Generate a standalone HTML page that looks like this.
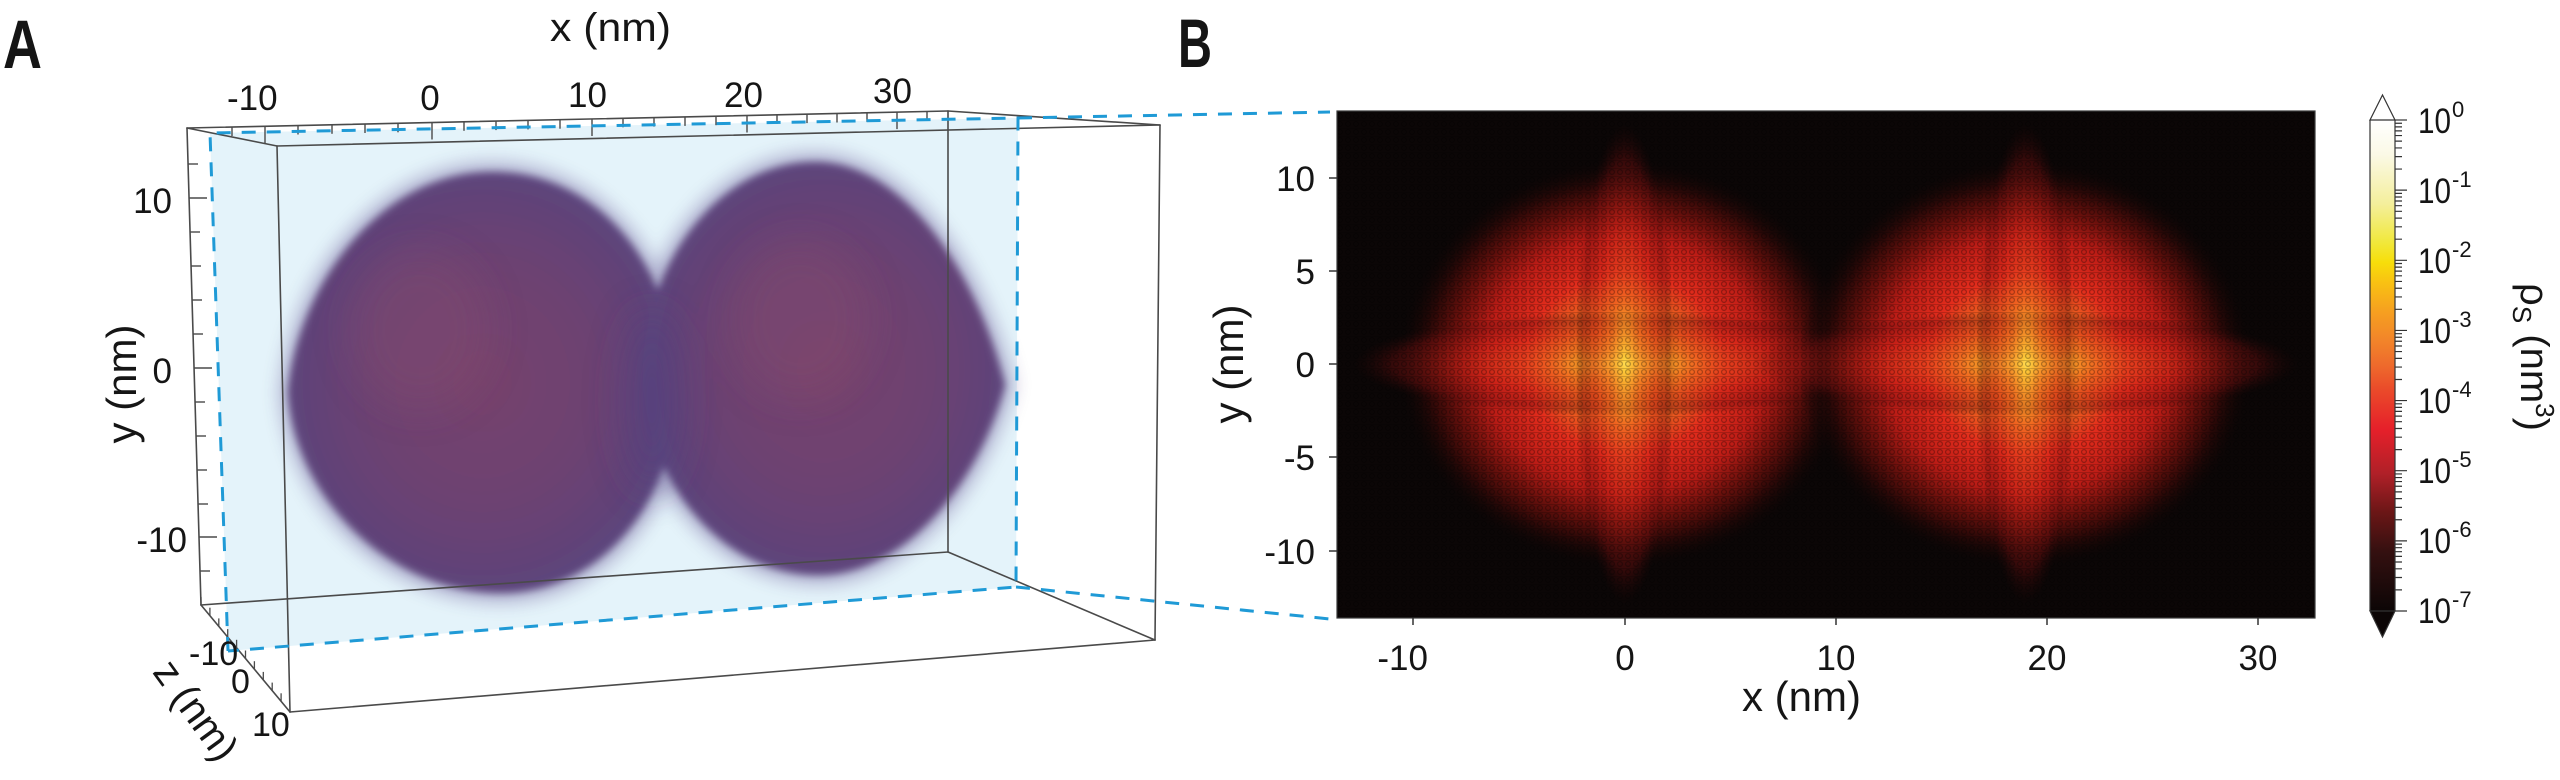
<!DOCTYPE html>
<html>
<head>
<meta charset="utf-8">
<style>
  html, body { margin:0; padding:0; background:#ffffff; }
  body { width:2560px; height:780px; overflow:hidden; }
  svg { display:block; }
  text { font-family: "Liberation Sans", "DejaVu Sans", sans-serif; fill:#151515; }
</style>
</head>
<body>
<svg width="2560" height="780" viewBox="0 0 2560 780" xmlns="http://www.w3.org/2000/svg">
  <defs>
    <radialGradient id="lobeL" cx="0.5" cy="0.5" r="0.5">
      <stop offset="0" stop-color="#76426c"/>
      <stop offset="0.6" stop-color="#6c4272"/>
      <stop offset="0.9" stop-color="#614378"/>
      <stop offset="1" stop-color="#5c457c"/>
    </radialGradient>
    <filter id="soft" x="-10%" y="-10%" width="120%" height="120%">
      <feGaussianBlur stdDeviation="4"/>
    </filter>
    <filter id="soft2" x="-30%" y="-30%" width="160%" height="160%">
      <feGaussianBlur stdDeviation="9"/>
    </filter>
    <filter id="soft3" x="-50%" y="-50%" width="200%" height="200%">
      <feGaussianBlur stdDeviation="18"/>
    </filter>

    <radialGradient id="disk" cx="0.5" cy="0.5" r="0.5">
      <stop offset="0" stop-color="#fffbd0"/>
      <stop offset="0.03" stop-color="#fff050"/>
      <stop offset="0.09" stop-color="#fcd030"/>
      <stop offset="0.18" stop-color="#f5a020"/>
      <stop offset="0.30" stop-color="#ee6420"/>
      <stop offset="0.44" stop-color="#e22c1c"/>
      <stop offset="0.62" stop-color="#bc1c16"/>
      <stop offset="0.76" stop-color="#6a100c"/>
      <stop offset="0.88" stop-color="#280807"/>
      <stop offset="1" stop-color="#0b0606" stop-opacity="0"/>
    </radialGradient>
    <radialGradient id="streak" cx="0.5" cy="0.5" r="0.5">
      <stop offset="0" stop-color="#ffd838" stop-opacity="0.6"/>
      <stop offset="0.3" stop-color="#f06020" stop-opacity="0.45"/>
      <stop offset="0.6" stop-color="#d42418" stop-opacity="0.45"/>
      <stop offset="0.85" stop-color="#7a1010" stop-opacity="0.4"/>
      <stop offset="1" stop-color="#300808" stop-opacity="0"/>
    </radialGradient>
    <pattern id="rings" x="0" y="0" width="8" height="8" patternUnits="userSpaceOnUse">
      <circle cx="4" cy="4" r="2.4" fill="none" stroke="#000" stroke-opacity="0.3" stroke-width="1.2"/>
      <rect x="0" y="0" width="8" height="1" fill="#000" fill-opacity="0.18"/>
    </pattern>
    <clipPath id="hmclip"><rect x="1337" y="111" width="978" height="507"/></clipPath>

    <linearGradient id="cbar" x1="0" y1="0" x2="0" y2="1">
      <stop offset="0" stop-color="#ffffff"/>
      <stop offset="0.07" stop-color="#fbf9e6"/>
      <stop offset="0.17" stop-color="#f4ef9c"/>
      <stop offset="0.25" stop-color="#f1e83a"/>
      <stop offset="0.29" stop-color="#f7de0a"/>
      <stop offset="0.33" stop-color="#f9c212"/>
      <stop offset="0.39" stop-color="#f6a020"/>
      <stop offset="0.45" stop-color="#f2842a"/>
      <stop offset="0.50" stop-color="#ee6a2c"/>
      <stop offset="0.55" stop-color="#ea4a2a"/>
      <stop offset="0.63" stop-color="#e6202a"/>
      <stop offset="0.72" stop-color="#b02028"/>
      <stop offset="0.80" stop-color="#6a1616"/>
      <stop offset="0.88" stop-color="#341010"/>
      <stop offset="1" stop-color="#0c0606"/>
    </linearGradient>
  </defs>

  <!-- ================= PANEL A ================= -->
  <text x="3" y="68" font-size="69" font-weight="bold" textLength="39" lengthAdjust="spacingAndGlyphs">A</text>
  <text x="550" y="41" font-size="40" textLength="121" lengthAdjust="spacingAndGlyphs">x (nm)</text>

  <polygon points="210,133 1018,118 1016,587 228,651" fill="#e4f3fa"/>

  <!-- fuzzy halo -->
  <g filter="url(#soft2)" opacity="0.45">
    <path d="M 280,392 C 289,283 373,163 492,163 C 612,163 685,275 685,385 C 685,507 607,602 500,602 C 388,602 287,507 280,392 Z" fill="#6a5a96"/>
    <path d="M 635,372 C 635,260 713,153 815,153 C 910,153 985,268 1014,385 C 988,484 912,584 818,584 C 716,584 635,484 635,372 Z" fill="#6a5a96"/>
  </g>
  <g filter="url(#soft)">
    <path d="M 288,392 C 297,289 379,172 492,172 C 606,172 677,279 677,385 C 677,501 601,593 500,593 C 394,593 295,501 288,392 Z" fill="url(#lobeL)"/>
    <path d="M 643,372 C 643,266 719,162 815,162 C 904,162 977,274 1005,385 C 980,480 906,575 818,575 C 722,575 643,480 643,372 Z" fill="url(#lobeL)"/>
  </g>
  <g filter="url(#soft3)">
    <ellipse cx="652" cy="400" rx="30" ry="90" fill="#4f3f80" opacity="0.45"/>
    <ellipse cx="420" cy="330" rx="70" ry="80" fill="#8a4a6a" opacity="0.25"/>
    <ellipse cx="800" cy="320" rx="70" ry="80" fill="#8a4a6a" opacity="0.25"/>
  </g>

  <!-- box edges -->
  <g stroke="#4a4a4a" stroke-width="1.6" fill="none" stroke-linecap="round">
    <line x1="187" y1="128" x2="948" y2="111"/>
    <line x1="277" y1="146" x2="1160" y2="125"/>
    <line x1="187" y1="128" x2="277" y2="146"/>
    <line x1="948" y1="111" x2="1160" y2="125"/>
    <line x1="187" y1="128" x2="201" y2="605"/>
    <line x1="277" y1="146" x2="290" y2="712"/>
    <line x1="948" y1="111" x2="948" y2="552"/>
    <line x1="1160" y1="125" x2="1155" y2="640"/>
    <line x1="201" y1="605" x2="948" y2="552"/>
    <line x1="290" y1="712" x2="1155" y2="640"/>
    <line x1="201" y1="605" x2="290" y2="712"/>
    <line x1="948" y1="552" x2="1155" y2="640"/>
  </g>

  <g stroke="#4a4a4a" stroke-width="1.4">
    <line x1="232" y1="127.0" x2="232" y2="136"/>
    <line x1="265" y1="126.3" x2="265" y2="143"/>
    <line x1="298" y1="125.5" x2="298" y2="134.5"/>
    <line x1="332" y1="124.8" x2="332" y2="133.8"/>
    <line x1="365" y1="124.0" x2="365" y2="133"/>
    <line x1="398" y1="123.3" x2="398" y2="132.3"/>
    <line x1="432" y1="122.5" x2="432" y2="139.5"/>
    <line x1="464" y1="121.8" x2="464" y2="130.8"/>
    <line x1="496" y1="121.1" x2="496" y2="130.1"/>
    <line x1="528" y1="120.4" x2="528" y2="129.4"/>
    <line x1="560" y1="119.7" x2="560" y2="128.7"/>
    <line x1="592" y1="119.0" x2="592" y2="136"/>
    <line x1="623" y1="118.3" x2="623" y2="127.3"/>
    <line x1="654" y1="117.6" x2="654" y2="126.6"/>
    <line x1="685" y1="116.9" x2="685" y2="125.9"/>
    <line x1="716" y1="116.2" x2="716" y2="125.2"/>
    <line x1="747" y1="115.5" x2="747" y2="132.5"/>
    <line x1="777" y1="114.8" x2="777" y2="123.8"/>
    <line x1="807" y1="114.1" x2="807" y2="123.1"/>
    <line x1="837" y1="113.5" x2="837" y2="122.5"/>
    <line x1="867" y1="112.8" x2="867" y2="121.8"/>
    <line x1="897" y1="112.1" x2="897" y2="129.1"/>
    <line x1="927" y1="111.5" x2="927" y2="120.5"/>
  </g>

  <g stroke="#4a4a4a" stroke-width="1.4">
    <line x1="188.1" y1="164" x2="198" y2="164"/>
    <line x1="189.1" y1="198" x2="207" y2="198"/>
    <line x1="190.1" y1="232" x2="200" y2="232"/>
    <line x1="191.1" y1="266" x2="201" y2="266"/>
    <line x1="192.1" y1="300" x2="202" y2="300"/>
    <line x1="193.1" y1="334" x2="203" y2="334"/>
    <line x1="194.0" y1="368" x2="212" y2="368"/>
    <line x1="195.0" y1="402" x2="205" y2="402"/>
    <line x1="196.0" y1="436" x2="206" y2="436"/>
    <line x1="197.0" y1="470" x2="207" y2="470"/>
    <line x1="198.0" y1="504" x2="208" y2="504"/>
    <line x1="199.0" y1="537" x2="217" y2="537"/>
    <line x1="200.0" y1="571" x2="210" y2="571"/>
  </g>

  <g stroke="#4a4a4a" stroke-width="1.3">
    <line x1="201" y1="605" x2="201" y2="597"/>
    <line x1="209.9" y1="615.7" x2="209.9" y2="607.7"/>
    <line x1="218.8" y1="626.4" x2="218.8" y2="618.4"/>
    <line x1="227.7" y1="637.1" x2="227.7" y2="629.1"/>
    <line x1="236.6" y1="647.8" x2="236.6" y2="639.8"/>
    <line x1="245.5" y1="658.5" x2="245.5" y2="650.5"/>
    <line x1="254.4" y1="669.2" x2="254.4" y2="661.2"/>
    <line x1="263.3" y1="679.9" x2="263.3" y2="671.9"/>
    <line x1="272.2" y1="690.6" x2="272.2" y2="682.6"/>
    <line x1="281.1" y1="701.3" x2="281.1" y2="693.3"/>
  </g>

  <g stroke="#1f9ad6" stroke-width="3" fill="none" stroke-dasharray="14 11">
    <polyline points="228,651 210,133 1018,118 1016,587 228,651"/>
    <line x1="1018" y1="118" x2="1330" y2="112"/>
    <line x1="1016" y1="587" x2="1330" y2="619"/>
  </g>

  <g font-size="35">
    <text x="227" y="110">-10</text>
    <text x="430" y="110" text-anchor="middle">0</text>
    <text x="568" y="107">10</text>
    <text x="724" y="107">20</text>
    <text x="873" y="103">30</text>
    <text x="172" y="213" text-anchor="end">10</text>
    <text x="172" y="383" text-anchor="end">0</text>
    <text x="187" y="552" text-anchor="end">-10</text>
  </g>
  <g font-size="34">
    <text x="189" y="665">-10</text>
    <text x="231" y="693">0</text>
    <text x="252" y="736">10</text>
  </g>
  <text transform="translate(136,384) rotate(-90)" font-size="42" text-anchor="middle">y (nm)</text>
  <text transform="translate(185,718) rotate(54)" font-size="40" text-anchor="middle">z (nm)</text>

  <!-- ================= PANEL B ================= -->
  <text x="1178" y="67" font-size="69" font-weight="bold" textLength="34" lengthAdjust="spacingAndGlyphs">B</text>

  <rect x="1337" y="111" width="978" height="507" fill="#0b0606"/>
  <g clip-path="url(#hmclip)">
    <ellipse cx="1625" cy="364" rx="228" ry="205" fill="url(#disk)"/>
    <ellipse cx="1625" cy="364" rx="272" ry="52" fill="url(#streak)"/>
    <ellipse cx="1625" cy="364" rx="50" ry="240" fill="url(#streak)"/>
    <ellipse cx="2026" cy="364" rx="228" ry="205" fill="url(#disk)"/>
    <ellipse cx="2026" cy="364" rx="272" ry="52" fill="url(#streak)"/>
    <ellipse cx="2026" cy="364" rx="50" ry="240" fill="url(#streak)"/>
    <rect x="1337" y="111" width="978" height="507" fill="url(#rings)"/>
  </g>
  <rect x="1337" y="111" width="978" height="507" fill="none" stroke="#3a3a3a" stroke-width="1.2"/>

  <g stroke="#333" stroke-width="1.5">
    <line x1="1329" y1="178" x2="1337" y2="178"/>
    <line x1="1329" y1="271" x2="1337" y2="271"/>
    <line x1="1329" y1="364" x2="1337" y2="364"/>
    <line x1="1329" y1="457" x2="1337" y2="457"/>
    <line x1="1329" y1="551" x2="1337" y2="551"/>
    <line x1="1413" y1="618" x2="1413" y2="625"/>
    <line x1="1625" y1="618" x2="1625" y2="625"/>
    <line x1="1836" y1="618" x2="1836" y2="625"/>
    <line x1="2047" y1="618" x2="2047" y2="625"/>
    <line x1="2258" y1="618" x2="2258" y2="625"/>
  </g>
  <g font-size="35">
    <text x="1315" y="191" text-anchor="end">10</text>
    <text x="1315" y="284" text-anchor="end">5</text>
    <text x="1315" y="377" text-anchor="end">0</text>
    <text x="1315" y="470" text-anchor="end">-5</text>
    <text x="1315" y="564" text-anchor="end">-10</text>
    <text x="1428" y="670" text-anchor="end">-10</text>
    <text x="1625" y="670" text-anchor="middle">0</text>
    <text x="1836" y="670" text-anchor="middle">10</text>
    <text x="2047" y="670" text-anchor="middle">20</text>
    <text x="2258" y="670" text-anchor="middle">30</text>
  </g>
  <text x="1742" y="711" font-size="42">x (nm)</text>
  <text transform="translate(1243,364) rotate(-90)" font-size="42" text-anchor="middle">y (nm)</text>

  <!-- ================= COLORBAR ================= -->
  <rect x="2370" y="120" width="25" height="491" fill="url(#cbar)"/>
  <polygon points="2370,120 2382.5,95 2395,120" fill="#ffffff" stroke="#333" stroke-width="1.2"/>
  <polygon points="2370,611 2382.5,637 2395,611" fill="#0c0606" stroke="#333" stroke-width="1.2"/>
  <line x1="2370" y1="120" x2="2370" y2="611" stroke="#333" stroke-width="1.2"/>
  <line x1="2395" y1="120" x2="2395" y2="611" stroke="#333" stroke-width="1.2"/>

  <g stroke="#333" stroke-width="1.2" fill="none">
    <path d="M2395 0h12 M2395 -21.1h7 M2395 -33.5h7 M2395 -42.2h7 M2395 -49h7 M2395 -54.6h7 M2395 -59.3h7 M2395 -63.3h7 M2395 -66.9h7" transform="translate(0,190.14)"/>
    <path d="M2395 0h12 M2395 -21.1h7 M2395 -33.5h7 M2395 -42.2h7 M2395 -49h7 M2395 -54.6h7 M2395 -59.3h7 M2395 -63.3h7 M2395 -66.9h7" transform="translate(0,260.29)"/>
    <path d="M2395 0h12 M2395 -21.1h7 M2395 -33.5h7 M2395 -42.2h7 M2395 -49h7 M2395 -54.6h7 M2395 -59.3h7 M2395 -63.3h7 M2395 -66.9h7" transform="translate(0,330.43)"/>
    <path d="M2395 0h12 M2395 -21.1h7 M2395 -33.5h7 M2395 -42.2h7 M2395 -49h7 M2395 -54.6h7 M2395 -59.3h7 M2395 -63.3h7 M2395 -66.9h7" transform="translate(0,400.57)"/>
    <path d="M2395 0h12 M2395 -21.1h7 M2395 -33.5h7 M2395 -42.2h7 M2395 -49h7 M2395 -54.6h7 M2395 -59.3h7 M2395 -63.3h7 M2395 -66.9h7" transform="translate(0,470.71)"/>
    <path d="M2395 0h12 M2395 -21.1h7 M2395 -33.5h7 M2395 -42.2h7 M2395 -49h7 M2395 -54.6h7 M2395 -59.3h7 M2395 -63.3h7 M2395 -66.9h7" transform="translate(0,540.86)"/>
    <path d="M2395 0h12 M2395 -21.1h7 M2395 -33.5h7 M2395 -42.2h7 M2395 -49h7 M2395 -54.6h7 M2395 -59.3h7 M2395 -63.3h7 M2395 -66.9h7" transform="translate(0,611)"/>
    <path d="M2395 120h12"/>
  </g>

  <g font-size="35">
    <text x="2418" y="133" textLength="33" lengthAdjust="spacingAndGlyphs">10</text><text x="2452" y="117" font-size="22">0</text>
    <text x="2418" y="203" textLength="33" lengthAdjust="spacingAndGlyphs">10</text><text x="2452" y="187" font-size="22">-1</text>
    <text x="2418" y="273" textLength="33" lengthAdjust="spacingAndGlyphs">10</text><text x="2452" y="257" font-size="22">-2</text>
    <text x="2418" y="343" textLength="33" lengthAdjust="spacingAndGlyphs">10</text><text x="2452" y="327" font-size="22">-3</text>
    <text x="2418" y="413" textLength="33" lengthAdjust="spacingAndGlyphs">10</text><text x="2452" y="397" font-size="22">-4</text>
    <text x="2418" y="483" textLength="33" lengthAdjust="spacingAndGlyphs">10</text><text x="2452" y="467" font-size="22">-5</text>
    <text x="2418" y="553" textLength="33" lengthAdjust="spacingAndGlyphs">10</text><text x="2452" y="537" font-size="22">-6</text>
    <text x="2418" y="623" textLength="33" lengthAdjust="spacingAndGlyphs">10</text><text x="2452" y="607" font-size="22">-7</text>
  </g>

  <text transform="translate(2521,357) rotate(90)" font-size="40" text-anchor="middle">ρ<tspan font-size="26" dy="8">S</tspan><tspan dy="-8"> (nm</tspan><tspan font-size="26" dy="-15">3</tspan><tspan dy="15">)</tspan></text>
</svg>
</body>
</html>
